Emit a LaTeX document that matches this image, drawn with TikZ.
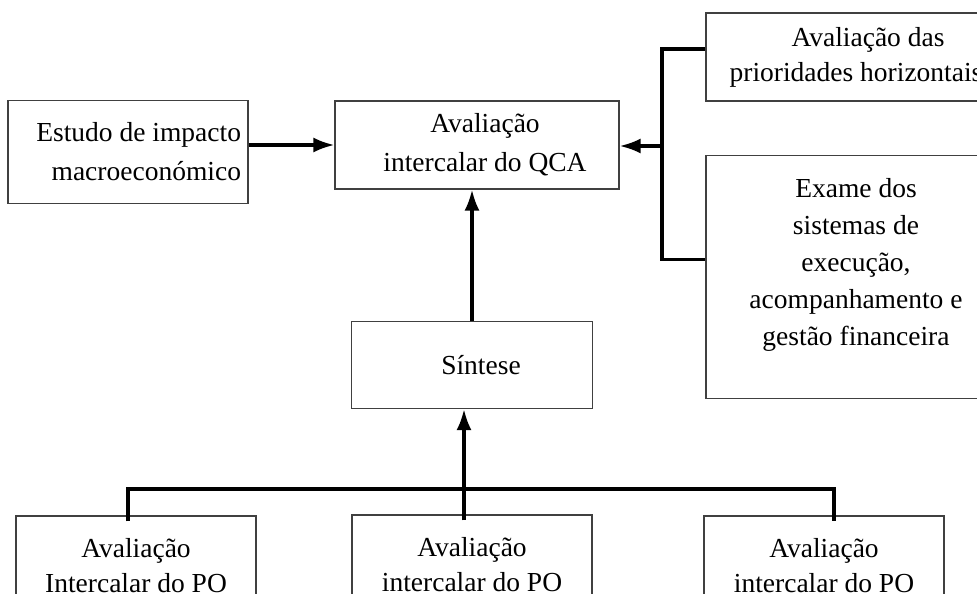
\documentclass[tikz,border=0pt]{standalone}
\usepackage{fontspec}
\setmainfont{Liberation Serif}
\usetikzlibrary{arrows.meta}
\usetikzlibrary{calc}

\begin{document}
\begin{tikzpicture}[
    x=1pt, y=-1pt,
    >={Latex[length=21pt,width=15pt]},
    every node/.style={font=\fontsize{27.5pt}{35pt}\selectfont},
    box/.style={draw=black!75, line width=1.2pt, align=center, inner sep=0pt},
    wide/.style={font=\fontsize{27.5pt}{39pt}\selectfont},
    link/.style={line width=3.2pt},
    flow/.style={->, line width=3.2pt}
]
\useasboundingbox (0,0) rectangle (977,594);
\clip (0,0) rectangle (977,594);

\node[box, wide, minimum width=240pt, minimum height=103pt, text width=226pt, align=flush right] (estudo) at (128,152) {Estudo de impacto\hspace*{6pt}\\macroeconómico};
\node[box, wide, minimum width=284pt, minimum height=88pt] (qca) at (477,145) {\hspace*{16pt}Avaliação\\\hspace*{16pt}intercalar do QCA};
\node[box, minimum width=300pt, minimum height=88pt] (prio) at (856,57) {\hspace*{24pt}Avaliação das\\prioridades horizontais};
\node[box, font=\fontsize{27.5pt}{37pt}\selectfont, minimum width=300pt, text height=190pt, text depth=53pt, anchor=north] (exame) at (856,155) {Exame dos\\sistemas de\\execução,\\acompanhamento e\\gestão financeira};
\node[box, minimum width=241pt, minimum height=87pt] (sintese) at (472,365) {\hspace*{18pt}Síntese};

\node[box, minimum width=240pt, minimum height=100pt] (poA) at (136,566) {Avaliação\\Intercalar do PO};
\node[box, minimum width=240pt, minimum height=100pt] (poB) at (472,565) {Avaliação\\intercalar do PO};
\node[box, minimum width=240pt, minimum height=100pt] (poC) at (824,566) {Avaliação\\intercalar do PO};

\coordinate (spine) at (662,146);
\coordinate (bus) at (464,489);

\draw[flow] (estudo.east |- qca.west) -- (qca.west);
\draw[link] ([yshift=8pt]prio.west) -| (spine) |- ([yshift=18pt]exame.west);
\draw[flow] (spine) -- (qca.east |- spine);
\draw[flow] (sintese.north) -- (sintese.north |- qca.south);

\draw[link] ([xshift=-8pt,yshift=-6pt]poA.north) |- (bus) -| ([xshift=10pt,yshift=-6pt]poC.north);
\draw[flow] ([xshift=-8pt,yshift=-6pt]poB.north) -- (bus) -- (bus |- sintese.south);
\end{tikzpicture}
\end{document}
